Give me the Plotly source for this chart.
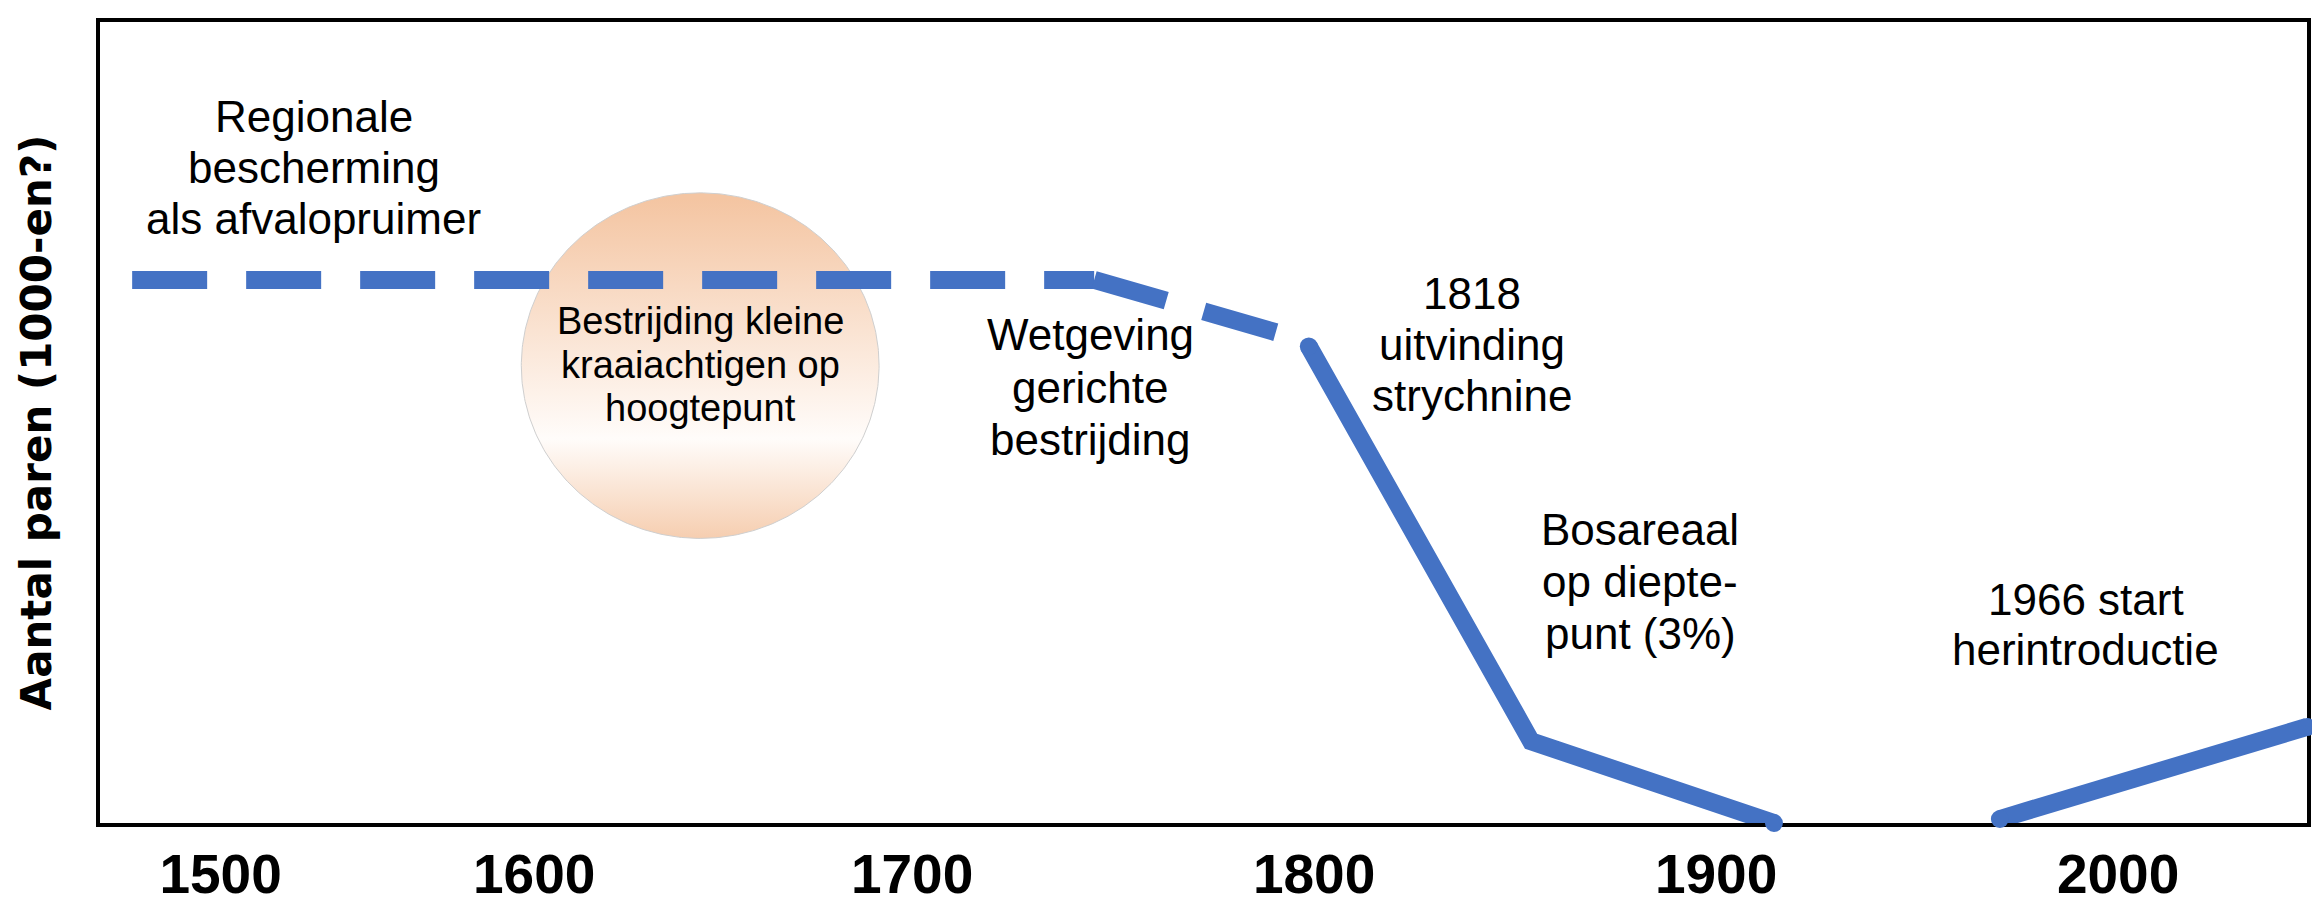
import numpy as np
import plotly.graph_objects as go

# ---------------- data ----------------
# Population index (arbitrary units, axis has no scale) against year
dashed_flat_x = [1506.0, 1745.3]
dashed_flat_y = [67.8, 67.8]
dashed_slope_x = [1745.3, 1796.5]
dashed_slope_y = [67.8, 60.4]
solid_x = [1798.7, 1854.0, 1914.4]
solid_y = [59.5, 10.2, 0.0]
rise_x = [1970.6, 2047.0]
rise_y = [0.5, 12.0]

tick_vals = [1528, 1606, 1700, 1800, 1900, 2000]
tick_labels = ["1500", "1600", "1700", "1800", "1900", "2000"]

y_title = "Aantal paren (1000-en?)"

label_regionale = ["Regionale", "bescherming", "als afvalopruimer"]
label_circle = ["Bestrijding kleine", "kraaiachtigen op", "hoogtepunt"]
label_wetgeving = ["Wetgeving", "gerichte", "bestrijding"]
label_1818 = ["1818", "uitvinding", "strychnine"]
label_bos = ["Bosareaal", "op diepte-", "punt (3%)"]
label_1966 = ["1966 start", "herintroductie"]

# ---------------- style / layout ----------------
X_RANGE = [1498, 2047]
Y_RANGE = [0, 100]
BLUE = "#4472C4"
LW = 18
TEXT_FONT = "Liberation Sans, Arial, sans-serif"

fig = go.Figure()

# decorative gradient circle (highlight)
CIRCLE_CX, CIRCLE_CY = 1647.3, 57.1
CIRCLE_RX, CIRCLE_RY = 44.5, 21.57
theta = np.linspace(0, 2 * np.pi, 361)
fig.add_trace(go.Scatter(
    x=CIRCLE_CX + CIRCLE_RX * np.cos(theta),
    y=CIRCLE_CY + CIRCLE_RY * np.sin(theta),
    mode="lines", fill="toself",
    fillgradient=dict(type="vertical",
                      colorscale=[[0, "#F4C5A2"], [0.33, "#FFFCFA"], [1, "#F4C5A2"]],
                      start=CIRCLE_CY - CIRCLE_RY, stop=CIRCLE_CY + CIRCLE_RY),
    line=dict(color="#CFCFCF", width=1),
    hoverinfo="skip", showlegend=False,
))

dash_pattern = "75px,39px"
fig.add_trace(go.Scatter(x=dashed_flat_x, y=dashed_flat_y, mode="lines",
                         line=dict(color=BLUE, width=LW, dash=dash_pattern),
                         showlegend=False))
fig.add_trace(go.Scatter(x=dashed_slope_x, y=dashed_slope_y, mode="lines",
                         line=dict(color=BLUE, width=LW, dash=dash_pattern),
                         showlegend=False))
fig.add_trace(go.Scatter(x=solid_x, y=solid_y, mode="lines",
                         line=dict(color=BLUE, width=LW), showlegend=False))
fig.add_trace(go.Scatter(x=rise_x, y=rise_y, mode="lines",
                         line=dict(color=BLUE, width=LW), showlegend=False))
# round line caps at the ends of the solid segments
cap_x = [solid_x[0], solid_x[-1], rise_x[0], rise_x[-1]]
cap_y = [solid_y[0], solid_y[-1], rise_y[0], rise_y[-1]]
fig.add_trace(go.Scatter(x=cap_x, y=cap_y, mode="markers",
                         marker=dict(color=BLUE, size=LW, line=dict(width=0)),
                         cliponaxis=False, showlegend=False, hoverinfo="skip"))

annotations = []


def add_block(lines, x, y_top, step, size):
    for i, t in enumerate(lines):
        annotations.append(dict(
            x=x, y=y_top - i * step, xref="x", yref="y", text=t,
            showarrow=False, xanchor="center", yanchor="middle",
            font=dict(family=TEXT_FONT, size=size, color="black")))


add_block(label_regionale, 1551.2, 88.2, 6.39, 44)
add_block(label_circle, 1647.3, 62.65, 5.42, 38)
add_block(label_wetgeving, 1744.5, 60.96, 6.57, 44)
add_block(label_1818, 1839.3, 66.14, 6.39, 44)
add_block(label_bos, 1881.1, 36.63, 6.51, 44)
add_block(label_1966, 1992.0, 27.95, 6.27, 44)

fig.update_layout(
    width=2320, height=907,
    margin=dict(l=92, r=21, t=10, b=67),
    plot_bgcolor="white", paper_bgcolor="white",
    showlegend=False,
    annotations=annotations,
    xaxis=dict(range=X_RANGE, showgrid=False, zeroline=False,
               showline=True, linecolor="black", linewidth=4, mirror=True,
               tickmode="array", tickvals=tick_vals, ticktext=tick_labels,
               ticks="", layer="below traces",
               tickfont=dict(family=TEXT_FONT, size=55, color="black", weight="bold")),
    yaxis=dict(range=Y_RANGE, showgrid=False, zeroline=False,
               showline=True, linecolor="black", linewidth=4, mirror=True,
               showticklabels=False, ticks="", layer="below traces",
               title=dict(text=y_title, standoff=32,
                          font=dict(family="DejaVu Sans", size=42, color="black",
                                    weight="bold"))),
)

fig.write_html("out.html")
